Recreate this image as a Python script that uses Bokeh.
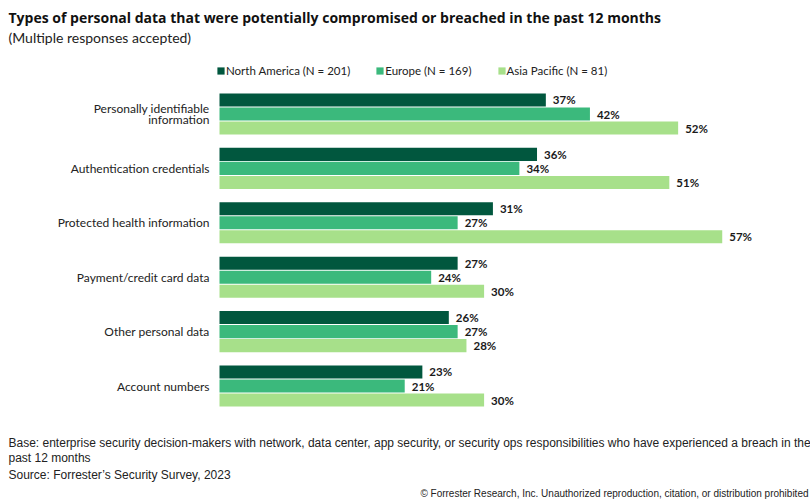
from bokeh.plotting import figure
from bokeh.models import (ColumnDataSource, Range1d, Legend, LegendItem, Title, FixedTicker)
from bokeh.core.properties import value
from bokeh.embed import file_html
from bokeh.resources import INLINE

categories = ["Personally identifiable information", "Authentication credentials",
              "Protected health information", "Payment/credit card data",
              "Other personal data", "Account numbers"]
category_labels = ["Personally identifiable\ninformation", "Authentication credentials",
                   "Protected health information", "Payment/credit card data",
                   "Other personal data", "Account numbers"]
north_america = [37, 36, 31, 27, 26, 23]
europe = [42, 34, 27, 24, 27, 21]
asia_pacific = [52, 51, 57, 30, 28, 30]
series_names = ["North America (N = 201)", "Europe (N = 169)", "Asia Pacific (N = 81)"]
colors = ["#01573e", "#3bb97c", "#a7e08a"]

title_text = "Types of personal data that were potentially compromised or breached in the past 12 months"
subtitle_text = "(Multiple responses accepted)"
foot_lines = ["Base: enterprise security decision-makers with network, data center, app security, or security ops responsibilities who have experienced a breach in the",
              "past 12 months",
              "Source: Forrester\u2019s Security Survey, 2023"]
copyright_text = "\u00a9 Forrester Research, Inc. Unauthorized reproduction, citation, or distribution prohibited"

n = len(categories)
pos = [n - 1 - i for i in range(n)]  # top category highest

# layout (pixels)
W, H = 810, 502
TOP, BOTTOM = 52, 70
LEFT = 216          # frame left
BAR0 = 219          # pixel where 0% sits
PX_PER_PCT = 8.82
FRAME_H = H - TOP - BOTTOM
STEP = 54.4
BOTTOM_CENTER = 385.5
y_start = -((H - BOTTOM) - BOTTOM_CENTER) / STEP
y_end = y_start + FRAME_H / STEP
x_start = -(BAR0 - LEFT) / PX_PER_PCT
x_end = (W - BAR0) / PX_PER_PCT

off = 0.258
bh = 0.24

src = ColumnDataSource(dict(
    pos=pos,
    y_na=[v + off for v in pos], y_eu=pos, y_ap=[v - off for v in pos],
    na=north_america, eu=europe, ap=asia_pacific,
    na_l=[f"{v}%" for v in north_america],
    eu_l=[f"{v}%" for v in europe],
    ap_l=[f"{v}%" for v in asia_pacific],
))

FONT = "Lato"
FOOT = "Liberation Sans"

p = figure(width=W, height=H, output_backend="svg", toolbar_location=None,
           title=None, x_axis_location=None,
           x_range=Range1d(x_start, x_end), y_range=Range1d(y_start, y_end),
           min_border_left=LEFT, min_border_right=0, min_border_top=TOP, min_border_bottom=BOTTOM)

bars = []
for ycol, col, lab, c in [("y_na", "na", "na_l", colors[0]), ("y_eu", "eu", "eu_l", colors[1]), ("y_ap", "ap", "ap_l", colors[2])]:
    r = p.hbar(y=ycol, left=0, right=col, height=bh, source=src, fill_color=c, line_color=None)
    bars.append(r)
    p.text(x=col, y=ycol, text=lab, source=src, x_offset=7,
           text_baseline="middle", text_align="left", text_font=value(FONT),
           text_font_style="bold", text_font_size="11.5px", text_color="#1a1a1a")

legend = Legend(items=[LegendItem(label=nm, renderers=[r]) for nm, r in zip(series_names, bars)],
                orientation="horizontal", location=(0, (H - BOTTOM) - 77), padding=0, margin=0,
                glyph_width=9, glyph_height=9, label_standoff=1, spacing=25, label_height=14,
                label_text_font=FONT, label_text_font_size="11.5px", label_text_color="#222222",
                border_line_color=None, background_fill_alpha=0)
p.add_layout(legend, "center")

p.xgrid.visible = False
p.ygrid.visible = False
p.outline_line_color = None
yax = p.yaxis[0]
yax.ticker = FixedTicker(ticks=pos)
yax.major_label_overrides = {pv: lb for pv, lb in zip(pos, category_labels)}
yax.axis_line_color = None
yax.major_tick_line_color = None
yax.major_tick_out = 0
yax.major_tick_in = 0
yax.minor_tick_line_color = None
yax.minor_tick_out = 0
yax.major_label_standoff = 10 - (BAR0 - LEFT)
yax.major_label_text_font = FONT
yax.major_label_text_font_size = "12px"
yax.major_label_text_color = "#222222"
yax.major_label_text_line_height = 0.75

p.add_layout(Title(text=subtitle_text, text_font=FONT, text_font_size="14px", text_font_style="normal",
                   text_color="#222222", align="left", offset=-(LEFT - 8), standoff=14), "above")
p.add_layout(Title(text=title_text, text_font="Open Sans", text_font_size="14px", text_font_style="bold",
                   text_color="#111111", align="left", offset=-(LEFT - 8), standoff=-14), "above")

for t, so in zip(foot_lines, [3, -5, 7]):
    p.add_layout(Title(text=t, text_font=FOOT, text_font_size="12px", text_font_style="normal",
                       text_color="#222222", align="left", offset=-(LEFT - 8), standoff=so), "below")
p.add_layout(Title(text=copyright_text, text_font=FOOT, text_font_size="10px", text_font_style="normal",
                   text_color="#222222", align="right", offset=2, standoff=0), "below")

open("out.html", "w").write(file_html(p, INLINE))
